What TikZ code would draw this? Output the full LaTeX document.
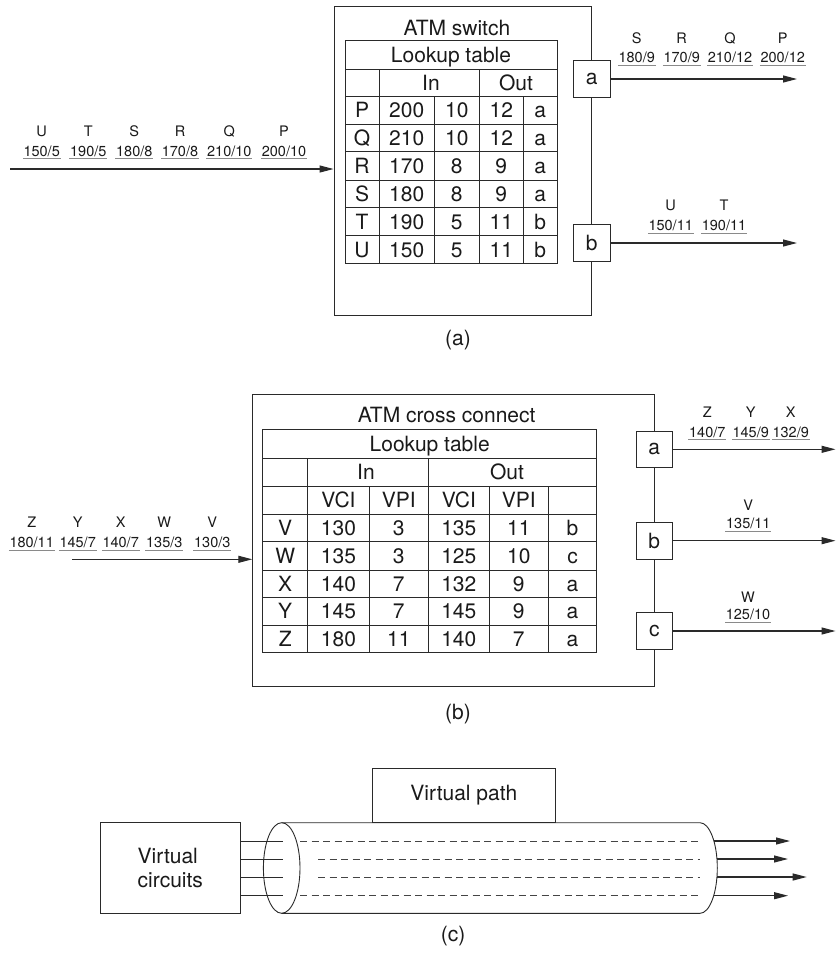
\documentclass[tikz,border=0pt]{standalone}
\usepackage{fontspec}
\setmainfont{TeX Gyre Heros}
\usetikzlibrary{arrows.meta}
\definecolor{ln}{HTML}{2a2a2a}
\definecolor{txt}{HTML}{1a1a1a}
\definecolor{ulgray}{HTML}{8a8a8a}
\definecolor{dsh}{HTML}{444444}
\begin{document}
\begin{tikzpicture}[x=1pt,y=-1pt,line width=0.9pt,draw=ln,text=txt,
  big/.style={font=\fontsize{21}{24}\selectfont},
  lbl/.style={font=\fontsize{14.5}{16}\selectfont,inner sep=0pt,anchor=base},
  num/.style={lbl,inner xsep=0.3pt,text depth=2.2pt},
  ul/.style={draw=ulgray,line width=0.9pt},
  cell/.style={big,inner sep=0pt,anchor=base},
  arr/.style={-{Triangle[length=14pt,width=7pt]},line width=1.1pt},
  port/.style={draw,fill=white,minimum width=36.6pt,minimum height=36.6pt,inner sep=0pt,big},
  frame/.style={draw,inner sep=0pt},
  dashline/.style={draw=dsh,line width=0.9pt,dash pattern=on 7pt off 4.5pt}
]
\fill[white] (0,0) rectangle (836,953);
\useasboundingbox (0,0) rectangle (836,953);

% ================= (a) =================
\node[frame,minimum width=257.7pt,minimum height=309pt] (sw) at (462.85,160.5) {};
\node[cell] (swt) at (457,35) {ATM switch};
% table a
\draw (345,40) rectangle (557,263.3);
\foreach \y in {69,96,124.3,151.7,180,207.3,235.3} \draw (345,\y) -- (557,\y);
\foreach \x in {379,479.3} \draw (\x,69) -- (\x,263.3);
\foreach \x in {434.3,523.3} \draw (\x,96) -- (\x,263.3);
\node[cell] (lta) at (451,62.7) {Lookup table};
\node[cell] (ina) at (431,90) {In};
\node[cell] (outa) at (516,90) {Out};
\foreach \r/\a/\b/\c/\d/\e [count=\i] in {P/200/10/12/a,Q/210/10/12/a,R/170/8/9/a,S/180/8/9/a,T/190/5/11/b,U/150/5/11/b}{
  \pgfmathsetmacro{\yy}{110.2+27.86*(\i-1)+7.6}
  \node[cell] (ta\i r) at (362,\yy) {\r};
  \node[cell] (ta\i a) at (406.7,\yy) {\a};
  \node[cell] (ta\i b) at (456.8,\yy) {\b};
  \node[cell] (ta\i c) at (501.3,\yy) {\c};
  \node[cell] (ta\i d) at (540.2,\yy) {\d};
}
% input a
\coordinate (ain) at (10,169);
\draw[arr] (ain) -- (ain -| sw.west);
\foreach \x/\L/\N [count=\i] in {41.7/U/{150/5},88.3/T/{190/5},134.3/S/{180/8},180/R/{170/8},229.3/Q/{210/10},284/P/{200/10}}{
  \node[lbl] (aiL\i) at (\x,136) {\L};
  \node[num] (aiN\i) at (\x,156) {\N};
  \draw[ul] (aiN\i.south west) -- (aiN\i.south east);
}
% ports a
\node[port] (pa) at (591.7,79) {a};
\node[port] (pb) at (591.7,243) {b};
\coordinate (paend) at (797,79);
\coordinate (pbend) at (797,243);
\draw[arr] (pa) -- (paend);
\draw[arr] (pb) -- (pbend);
\foreach \x/\L/\N [count=\i] in {636.7/S/{180/9},681.7/R/{170/9},730/Q/{210/12},782.7/P/{200/12}}{
  \node[lbl] (aoL\i) at (\x,43.5) {\L};
  \node[num] (aoN\i) at (\x,62.8) {\N};
  \draw[ul] (aoN\i.south west) -- (aoN\i.south east);
}
\foreach \x/\L/\N [count=\i] in {670.7/U/{150/11},724/T/{190/11}}{
  \node[lbl] (boL\i) at (\x,210) {\L};
  \node[num] (boN\i) at (\x,230.3) {\N};
  \draw[ul] (boN\i.south west) -- (boN\i.south east);
}
\node[big,inner sep=0pt,anchor=base] (capa) at (458,345) {(a)};

% ================= (b) =================
\node[frame,minimum width=401.6pt,minimum height=291.7pt] (cc) at (453.5,540.15) {};
\node[cell] (cct) at (446.7,422.5) {ATM cross connect};
\draw (262.7,429.3) rectangle (596.7,652.7);
\foreach \y in {458,486,514,541.7,570,597.7,625.7} \draw (262.7,\y) -- (596.7,\y);
\foreach \x in {307.7,428.3} \draw (\x,458) -- (\x,652.7);
\foreach \x in {369.3,489.3,548.3} \draw (\x,486) -- (\x,652.7);
\node[cell] (ltb) at (429.7,451.3) {Lookup table};
\node[cell] (inb) at (366,479.5) {In};
\node[cell] (outb) at (507,479.5) {Out};
\node[cell] (h1) at (338.5,507.5) {VCI};
\node[cell] (h2) at (398.8,507.5) {VPI};
\node[cell] (h3) at (458.8,507.5) {VCI};
\node[cell] (h4) at (518.8,507.5) {VPI};
\foreach \r/\a/\b/\c/\d/\e [count=\i] in {V/130/3/135/11/b,W/135/3/125/10/c,X/140/7/132/9/a,Y/145/7/145/9/a,Z/180/11/140/7/a}{
  \pgfmathsetmacro{\yy}{527.9+27.8*(\i-1)+7.6}
  \node[cell] (tb\i r) at (285.2,\yy) {\r};
  \node[cell] (tb\i a) at (338.5,\yy) {\a};
  \node[cell] (tb\i b) at (398.8,\yy) {\b};
  \node[cell] (tb\i c) at (458.8,\yy) {\c};
  \node[cell] (tb\i d) at (518.8,\yy) {\d};
  \node[cell] (tb\i e) at (572.5,\yy) {\e};
}
% input b
\coordinate (bin) at (72.3,559.3);
\draw[arr] (bin) -- (bin -| cc.west);
\foreach \x/\L/\N [count=\i] in {31.7/Z/{180/11},77.7/Y/{145/7},120.7/X/{140/7},164.3/W/{135/3},212.3/V/{130/3}}{
  \node[lbl] (biL\i) at (\x,527) {\L};
  \node[num] (biN\i) at (\x,547.5) {\N};
  \draw[ul] (biN\i.south west) -- (biN\i.south east);
}
% ports b
\node[port] (qa) at (654.3,449.3) {a};
\node[port] (qb) at (654.3,540.7) {b};
\node[port] (qc) at (654.3,631) {c};
\coordinate (qaend) at (835.5,449.3);
\coordinate (qbend) at (835.5,540.7);
\coordinate (qcend) at (835.5,631);
\draw[arr] (qa) -- (qaend);
\draw[arr] (qb) -- (qbend);
\draw[arr] (qc) -- (qcend);
\foreach \x/\L/\N [count=\i] in {707.3/Z/{140/7},750.7/Y/{145/9},790.7/X/{132/9}}{
  \node[lbl] (coL\i) at (\x,417) {\L};
  \node[num] (coN\i) at (\x,437) {\N};
  \draw[ul] (coN\i.south west) -- (coN\i.south east);
}
\node[lbl] (cvL) at (748.3,510) {V};
\node[num] (cvN) at (748.3,528.6) {135/11};
\draw[ul] (cvN.south west) -- (cvN.south east);
\node[lbl] (cwL) at (748,602) {W};
\node[num] (cwN) at (748,619.3) {125/10};
\draw[ul] (cwN.south west) -- (cwN.south east);
\node[big,inner sep=0pt,anchor=base] (capb) at (458,719) {(b)};

% ================= (c) =================
\node[frame,minimum width=140.7pt,minimum height=90.6pt,align=left,big] (vc) at (170.35,868) {Virtual\\circuits};
\node[frame,minimum width=182.3pt,minimum height=54.4pt,big] (vp) at (463.85,795.5) {Virtual path};
% cylinder
\draw (281.7,868) ellipse [x radius=18.3pt,y radius=45.3pt];
\draw (281.7,822.7) -- (700,822.7) arc[start angle=90,end angle=-90,x radius=17.3pt,y radius=45.3pt] -- (281.7,913.3);
\foreach \y in {841,859,877,895.7} \draw (vc.east |- 0,\y) -- (282.5,\y);
\draw[dashline] (300,841) -- (700,841);
\draw[dashline] (318,859) -- (700,859);
\draw[dashline] (318,877) -- (700,877);
\draw[dashline] (300,895.7) -- (700,895.7);
\coordinate (s1) at (713.9,841);   \coordinate (e1) at (790,841);
\coordinate (s2) at (717,859);     \coordinate (e2) at (788,859);
\coordinate (s3) at (717,877);     \coordinate (e3) at (806.7,877);
\coordinate (s4) at (713.7,895.7); \coordinate (e4) at (788,895.7);
\draw[arr] (s1) -- (e1);
\draw[arr] (s2) -- (e2);
\draw[arr] (s3) -- (e3);
\draw[arr] (s4) -- (e4);
\node[big,inner sep=0pt,anchor=base] (capc) at (453,941) {(c)};
\end{tikzpicture}
\end{document}
